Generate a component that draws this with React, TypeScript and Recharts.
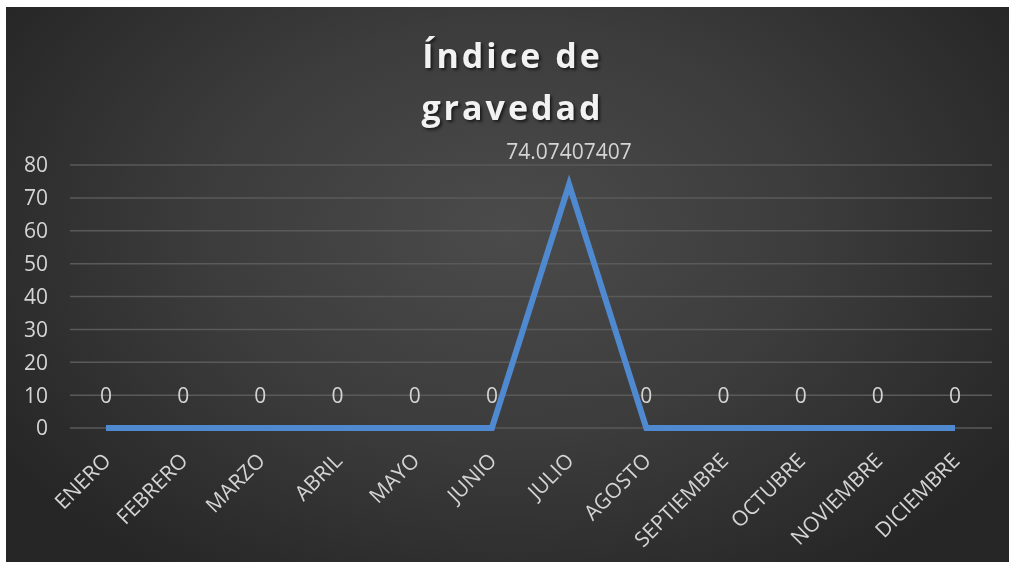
import { CartesianGrid, LabelList, Line, LineChart, XAxis, YAxis } from "recharts";

const months = [
  "ENERO",
  "FEBRERO",
  "MARZO",
  "ABRIL",
  "MAYO",
  "JUNIO",
  "JULIO",
  "AGOSTO",
  "SEPTIEMBRE",
  "OCTUBRE",
  "NOVIEMBRE",
  "DICIEMBRE",
];
const indice = [0, 0, 0, 0, 0, 0, 74.07407407, 0, 0, 0, 0, 0];
const yTicks = [0, 10, 20, 30, 40, 50, 60, 70, 80];

const data = months.map((m, i) => ({ mes: m, valor: indice[i] }));

const FONT = "'Open Sans', 'DejaVu Sans', sans-serif";
const TEXT = "#d4d4d4";

function MonthTick(props: any) {
  const { x, y, payload } = props;
  return (
    <text
      x={x + 6}
      y={y + 26}
      transform={`rotate(-45, ${x + 6}, ${y + 26})`}
      textAnchor="end"
      fill={TEXT}
      fontSize={21}
      fontFamily={FONT}
    >
      {payload.value}
    </text>
  );
}

export default function App() {
  return (
    <div style={{ position: "fixed", left: 0, top: 0, width: 1009, height: 562, background: "#fff" }}>
      <div
        style={{
          position: "absolute",
          left: 6,
          top: 7,
          width: 1003,
          height: 555,
          background:
            "radial-gradient(ellipse 60% 75% at 50% 40%, #4b4b4b 0%, #3c3c3c 50%, #262626 100%)",
        }}
      >
        <div
          style={{
            position: "absolute",
            left: 0,
            top: 22,
            width: 1013,
            textAlign: "center",
            color: "#f2f2f2",
            fontFamily: FONT,
            fontWeight: 700,
            fontSize: 34,
            letterSpacing: 3,
            lineHeight: "52px",
            textShadow: "2px 2px 3px rgba(0,0,0,0.6)",
          }}
        >
          Índice de
          <br />
          gravedad
        </div>
        <LineChart
          width={1003}
          height={555}
          data={data}
          margin={{ top: 158, right: 17, left: 0, bottom: 0 }}
          style={{ position: "absolute", left: 0, top: 0 }}
        >
          <CartesianGrid vertical={false} stroke="#5a5a5a" strokeWidth={1.5} />
          <XAxis
            dataKey="mes"
            axisLine={false}
            tickLine={false}
            interval={0}
            height={134}
            padding={{ left: 36, right: 37 }}
            tick={<MonthTick />}
          />
          <YAxis
            domain={[0, 80]}
            ticks={yTicks}
            axisLine={false}
            tickLine={false}
            tickSize={0}
            tickMargin={22}
            width={64}
            tick={{ fill: TEXT, fontSize: 21, fontFamily: FONT }}
          />
          <Line
            type="linear"
            dataKey="valor"
            stroke="#4f89d0"
            strokeWidth={6}
            dot={false}
            activeDot={false}
            isAnimationActive={false}
          >
            <LabelList
              dataKey="valor"
              position="top"
              offset={25}
              fill={TEXT}
              fontSize={21}
              fontFamily={FONT}
            />
          </Line>
        </LineChart>
      </div>
    </div>
  );
}
